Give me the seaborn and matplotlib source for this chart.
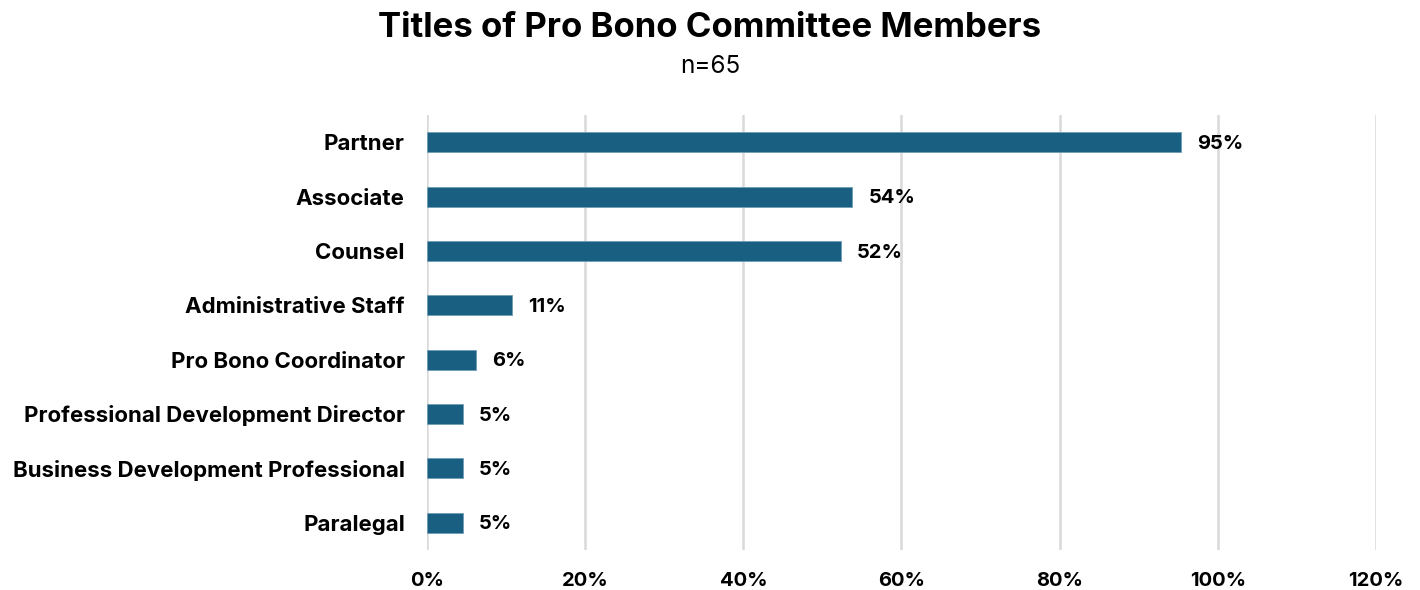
import matplotlib
matplotlib.use('Agg')
import matplotlib.pyplot as plt
import seaborn as sns
import pandas as pd
from matplotlib.ticker import PercentFormatter

titles = ['Partner', 'Associate', 'Counsel', 'Administrative Staff',
          'Pro Bono Coordinator', 'Professional Development Director',
          'Business Development Professional', 'Paralegal']
shares = [95.4, 53.8, 52.3, 10.8, 6.2, 4.6, 4.6, 4.6]
labels = ['95%', '54%', '52%', '11%', '6%', '5%', '5%', '5%']

df = pd.DataFrame({'Title': titles, 'Share': shares})

sns.set_theme(style='white')
plt.rcParams['font.family'] = ['Inter', 'DejaVu Sans']

fig = plt.figure(figsize=(14.2, 5.9), dpi=100)
ax = fig.add_axes([0.3007, 0.068, 0.6683, 0.737])

sns.barplot(data=df, x='Share', y='Title', color='#195f82', width=0.37,
            edgecolor='#6f9db8', linewidth=0.6, ax=ax, saturation=1)

for i, (v, t) in enumerate(zip(shares, labels)):
    ax.text(v + 2.0, i + 0.03, t, va='center', ha='left', fontsize=14.5,
            fontweight='bold', color='black')

ax.set_xlim(0, 120)
ax.set_ylim(7.5, -0.5)
ax.set_xticks(range(0, 121, 20))
ax.xaxis.set_major_formatter(PercentFormatter(decimals=0))
ax.grid(axis='x', color='#d9d9d9', linewidth=1.8)
ax.set_axisbelow(True)
for s in ax.spines.values():
    s.set_visible(False)
ax.set_xlabel('')
ax.set_ylabel('')
ax.tick_params(axis='x', length=0, pad=16, labelsize=14.5)
ax.tick_params(axis='y', length=0, pad=16, labelsize=16)
for lab in ax.get_xticklabels() + ax.get_yticklabels():
    lab.set_fontweight('bold')
    lab.set_color('black')

fig.text(0.5, 0.952, 'Titles of Pro Bono Committee Members', ha='center',
         va='center', fontsize=25, fontweight='bold', color='black')
fig.text(0.5, 0.887, 'n=65', ha='center', va='center', fontsize=17.5,
         color='black')

fig.savefig('out.png', dpi=100)
